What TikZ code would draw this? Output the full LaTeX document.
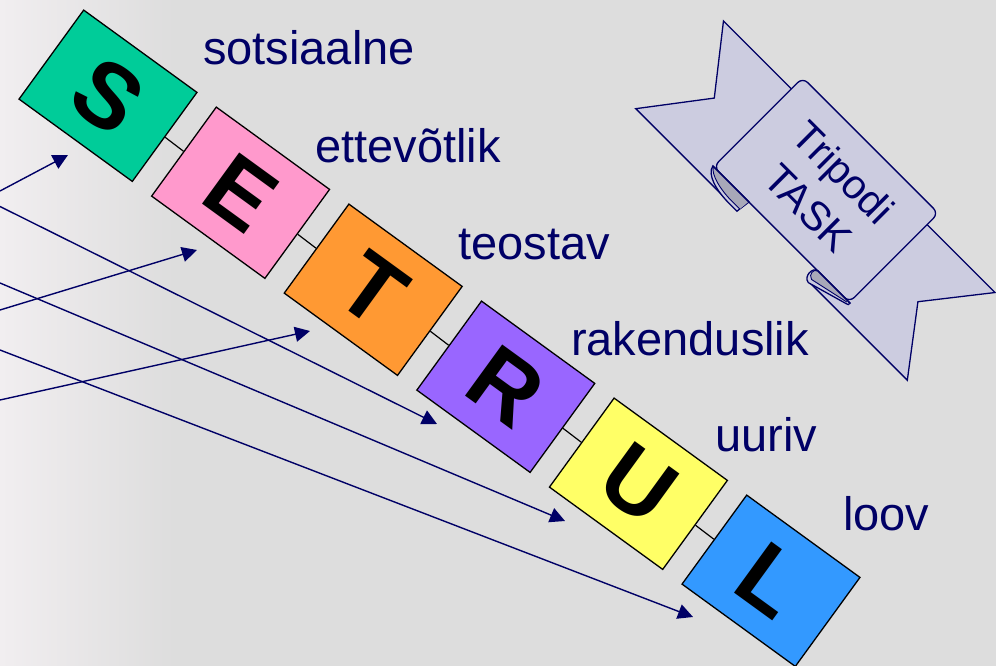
\documentclass[tikz,border=0pt]{standalone}
\usepackage{fontspec}
\setmainfont{Liberation Sans}
\usetikzlibrary{arrows.meta}
\definecolor{navy}{RGB}{0,0,102}
\definecolor{bgray}{RGB}{221,221,221}
\definecolor{bgleft}{RGB}{241,238,240}
\definecolor{cS}{RGB}{0,204,153}
\definecolor{cE}{RGB}{255,153,204}
\definecolor{cT}{RGB}{255,153,51}
\definecolor{cR}{RGB}{153,102,255}
\definecolor{cU}{RGB}{255,255,102}
\definecolor{cL}{RGB}{51,153,255}
\definecolor{ribbon}{RGB}{204,204,224}
\definecolor{folddark}{RGB}{168,168,184}
\begin{document}
\begin{tikzpicture}[x=1pt,y=-1pt,
  letterbox/.style={draw=black, line width=1.3pt, minimum width=140pt, minimum height=110pt,
    inner sep=0pt, rotate=-36, font=\fontsize{92}{92}\selectfont\bfseries, text=black},
  link/.style={draw=black, line width=1.2pt},
  lbl/.style={anchor=base west, inner sep=0pt, text=navy, font=\fontsize{47}{56}\selectfont},
  arr/.style={draw=navy, line width=1.4pt, -{Triangle[length=15pt,width=15pt]}},
  rib/.style={draw=navy, line width=1.3pt},
]
\useasboundingbox (0,0) rectangle (996,666);
\fill[bgray] (0,0) rectangle (996,666);
\shade[left color=bgleft, right color=bgray] (0,0) rectangle (175,666);

% squares
\node[letterbox, fill=cS] (S) at (108,95.75) {S};
\node[letterbox, fill=cE] (E) at (240.6,192.75) {E};
\node[letterbox, fill=cT] (T) at (373.2,289.75) {T};
\node[letterbox, fill=cR] (R) at (505.8,386.75) {R};
\node[letterbox, fill=cU] (U) at (638.4,483.75) {U};
\node[letterbox, fill=cL] (L) at (771,580.75) {L};
\draw[link] (S.east) -- (E.west);
\draw[link] (E.east) -- (T.west);
\draw[link] (T.east) -- (R.west);
\draw[link] (R.east) -- (U.west);
\draw[link] (U.east) -- (L.west);

% labels
\node[lbl] (l1) at (203,65) {sotsiaalne};
\node[lbl] (l2) at (315,162) {ettevõtlik};
\node[lbl] (l3) at (458,259) {teostav};
\node[lbl] (l4) at (571,355) {rakenduslik};
\node[lbl] (l5) at (715,451) {uuriv};
\node[lbl] (l6) at (843,530) {loov};

% arrows
\coordinate (a1) at (0,191);   \coordinate (t1) at (68,155);
\coordinate (a2) at (0,310);   \coordinate (t2) at (197,250);
\coordinate (a3) at (0,400);   \coordinate (t3) at (310,331);
\coordinate (a4) at (0,206.5); \coordinate (t4) at (437,424);
\coordinate (a5) at (0,283);   \coordinate (t5) at (565,521);
\coordinate (a6) at (0,350);   \coordinate (t6) at (693,617);
\draw[arr] (a1) -- (t1);
\draw[arr] (a2) -- (t2);
\draw[arr] (a3) -- (t3);
\draw[arr] (a4) -- (t4);
\draw[arr] (a5) -- (t5);
\draw[arr] (a6) -- (t6);

% ribbon
\begin{scope}[shift={(826,190)}]
\begin{scope}[x={(0.7071pt,-0.7071pt)}, y={(-0.7071pt,-0.7071pt)}]
  \fill[ribbon] (-55,-47) -- (-192,-47) -- (-144,14) -- (-192,77) -- (-55,77) -- cycle;
  \draw[rib] (-96,-47) -- (-192,-47) -- (-144,14) -- (-192,77) -- (-55,77);
  \fill[ribbon] (56,-47) -- (192,-47) -- (144,14) -- (192,77) -- (56,77) -- cycle;
  \draw[rib] (96,-47) -- (192,-47) -- (144,14) -- (192,77) -- (53,77);
  \filldraw[rib, fill=ribbon, rounded corners=7pt] (-96,-63) -- (96,-63) -- (96,63) -- (-96,63) -- cycle;
  % left fold
  \filldraw[rib, fill=ribbon] (-97,63) .. controls (-95,73) and (-78,78) .. (-58,78) -- (-48,78) -- (-46,63) -- cycle;
  \fill[folddark] (-96,63.5) .. controls (-92,70) and (-76,74.5) .. (-58,74.5) -- (-47.5,74.5) -- (-46.5,63.5) -- cycle;
  \draw[navy, line width=0.9pt] (-96,63.5) .. controls (-92,70) and (-76,74.5) .. (-58,74.5) -- (-47.5,74.5);
  % right fold
  \filldraw[rib, fill=ribbon] (97,63) -- (51,63) .. controls (45,64) and (45,77) .. (53,78) -- (95,66) .. controls (97,65.5) .. (97,63) -- cycle;
  \fill[folddark] (95,63.5) -- (51,63.5) .. controls (47,64) and (47,72) .. (53,73.5) -- (94,64.5) -- cycle;
  \draw[navy, line width=0.9pt] (51,63.5) .. controls (47,64) and (47,72) .. (53,73.5) -- (94,64.5);
  \draw[rib] (-97,63) -- (-46,63);
  \draw[rib] (51,63) -- (97,63);
  \node[rotate=-45, text=navy, align=center, font=\fontsize{41}{50}\selectfont, inner sep=0pt] (task) at (0,0) {Tripodi\\TASK};
\end{scope}
\end{scope}
\end{tikzpicture}
\end{document}
